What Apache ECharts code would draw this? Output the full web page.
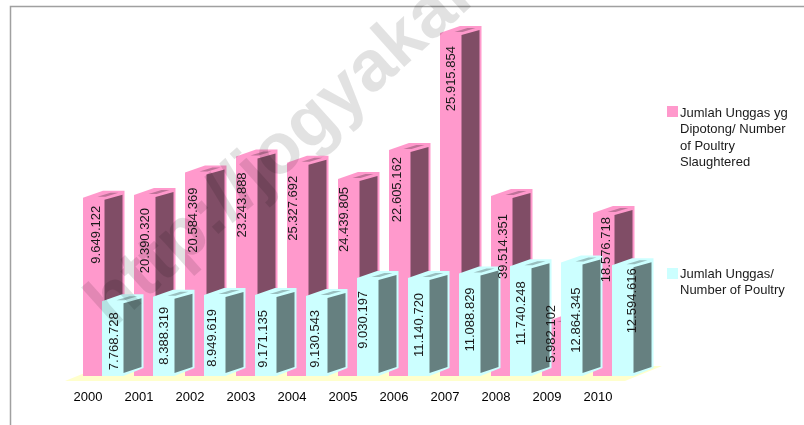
<!DOCTYPE html>
<html><head><meta charset="utf-8">
<style>html,body{margin:0;padding:0;background:#fff}#c{width:804px;height:425px}</style>
<script src="https://cdn.jsdelivr.net/npm/echarts@6/dist/echarts.min.js"></script>
</head><body><div id="c"></div>
<script>
// Data: heights in millions (the printed labels do not scale linearly)
var years = ['2000','2001','2002','2003','2004','2005','2006','2007','2008','2009','2010'];
var slaughtered = [19.8,20.1,22.6,24.4,23.7,21.9,25.1,38.1,20.0,5.9,18.1];
var poultry = [8.3,8.8,9.0,9.0,8.9,10.9,10.9,11.4,12.2,12.6,12.3];
var slaughteredLabels = ['9.649.122','20.390.320','20.584.369','23.243.888','25.327.692','24.439.805','22.605.162','25.915.854','39.514.351','5.982.102','18.576.718'];
var poultryLabels = ['7.768.728','8.388.319','8.949.619','9.171.135','9.130.543','9.030.197','11.140.720','11.088.829','11.740.248','12.864.345','12.594.616'];
var nameSlaughtered = 'Jumlah Unggas yg\nDipotong/ Number\nof Poultry\nSlaughtered';
var namePoultry = 'Jumlah Unggas/\nNumber of Poultry';
var watermark = 'http://jogyakarta';

var FONT = '"Liberation Sans", Arial, sans-serif';
var W = 21.5, DX = 20, DY = 7, PINK_OFF = -5, CYAN_OFF = 14;
// label end distance below the bar top, and label centre from the bar's left edge, px
var slaughteredGap = [8,13,15,16,13,8,7,13,18,-18,4];
var poultryGap = [11,10,14,15,14,13,15,14,15,25,3];
var slaughteredShift = [13,11,8,6,6,6,8,11,12,9,13];
var poultryShift = [12,11,8,8,9,6,11,11,11,15,20];

function bar3d(offset, front, side, patch) {
  return function (params, api) {
    var i = api.value(0);
    var c = api.coord([i, api.value(1)]);
    var base = api.coord([i, 0])[1];
    var x = c[0] + offset, y = c[1];
    var r = x + W;
    return {
      type: 'group',
      children: [
        {type: 'polygon', shape: {points: [[x, base], [x, y], [x + DX, y - DY], [r + DX, y - DY], [r + DX, base - DY - 1], [r, base]]}, style: {fill: front}},
        {type: 'polygon', shape: {points: [[r, y + 2], [r + DX - 2, y - DY + 4], [r + DX - 2, base - 9], [r, base - 3]]}, style: {fill: side}},
        {type: 'polygon', shape: {points: [[r - 7, y - 1], [r + 6, y - 5], [r + 14, y - 5], [r + 1, y - 1]]}, style: {fill: patch}}
      ]
    };
  };
}
function barLabels(offset, labels, gaps, shifts) {
  return function (params, api) {
    var i = api.value(0);
    var c = api.coord([i, api.value(1)]);
    return {type: 'text', x: c[0] + offset + shifts[i], y: c[1] + gaps[i], rotation: Math.PI / 2,
      style: {text: labels[i], fontFamily: FONT, fontSize: 13, fill: '#1a1a1a', align: 'right', verticalAlign: 'middle'}};
  };
}
function pairs(arr) { return arr.map(function (v, i) { return [i, v]; }); }

var chart = echarts.init(document.getElementById('c'), null, {renderer: 'canvas'});
chart.setOption({
  animation: false,
  backgroundColor: '#ffffff',
  grid: {left: 62.5, width: 561, top: 16, height: 360},
  xAxis: {type: 'category', data: years, axisLine: {show: false}, axisTick: {show: false},
    axisLabel: {color: '#000', fontFamily: FONT, fontSize: 13, margin: 15}},
  yAxis: {type: 'value', min: 0, max: 40, show: false},
  series: [
    {type: 'custom', silent: true, z: 1, clip: false, data: [[0]],
      renderItem: function (p, api) {
        var b = api.coord([0, 0]), e = api.coord([10, 0]);
        var yb = b[1] + 5, xl = b[0] - 23, xr = e[0] + 27;
        return {type: 'polygon', shape: {points: [[xl, yb], [xr, yb], [xr + 37, yb - 15], [xl + 37, yb - 15]]}, style: {fill: '#ffffcc'}};
      }},
    {type: 'custom', name: nameSlaughtered, z: 2, clip: false, encode: {x: 0, y: 1}, data: pairs(slaughtered),
      renderItem: bar3d(PINK_OFF, '#ff99cc', '#804d66', '#bf7399')},
    {type: 'custom', name: namePoultry, z: 3, clip: false, encode: {x: 0, y: 1}, data: pairs(poultry),
      renderItem: bar3d(CYAN_OFF, '#ccffff', '#668080', '#99bfbf')},
    {type: 'custom', silent: true, z: 5, clip: false, encode: {x: 0, y: 1}, data: pairs(slaughtered),
      renderItem: barLabels(PINK_OFF, slaughteredLabels, slaughteredGap, slaughteredShift)},
    {type: 'custom', silent: true, z: 5, clip: false, encode: {x: 0, y: 1}, data: pairs(poultry),
      renderItem: barLabels(CYAN_OFF, poultryLabels, poultryGap, poultryShift)}
  ],
  graphic: [
    {type: 'polyline', z: 0, shape: {points: [[10.5, 430], [10.5, 6.5], [810, 6.5]]}, style: {fill: null, stroke: '#a0a0a0', lineWidth: 1.5}},
    {type: 'rect', z: 10, shape: {x: 667, y: 106, width: 11, height: 11}, style: {fill: '#ff99cc'}},
    {type: 'text', z: 10, x: 680, y: 105, style: {text: nameSlaughtered, fontFamily: FONT, fontSize: 13, lineHeight: 16.5, fill: '#1a1a1a'}},
    {type: 'rect', z: 10, shape: {x: 667, y: 268, width: 11, height: 11}, style: {fill: '#ccffff'}},
    {type: 'text', z: 10, x: 680, y: 266, style: {text: namePoultry, fontFamily: FONT, fontSize: 13, lineHeight: 16.5, fill: '#1a1a1a'}},
    {type: 'text', z: 20, silent: true, x: 99, y: 315, rotation: 42 * Math.PI / 180,
      style: {text: watermark, fontFamily: FONT, fontWeight: 'bold', fontSize: 72, fill: 'rgba(0,0,0,0.115)', align: 'left', verticalAlign: 'middle'}}
  ]
});
</script></body></html>
